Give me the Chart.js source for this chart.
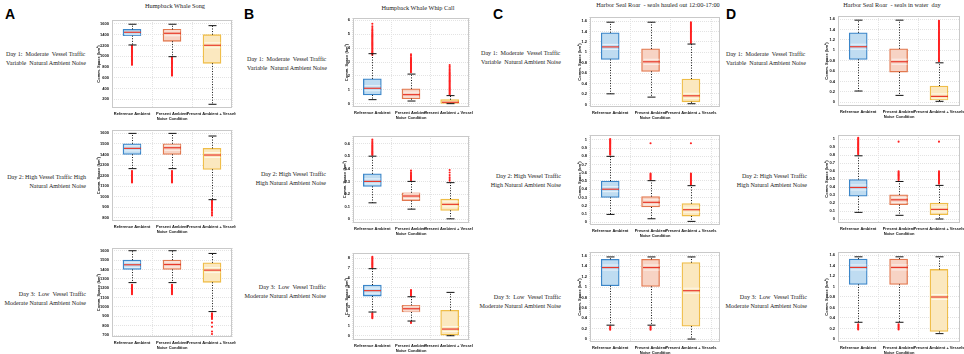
<!DOCTYPE html>
<html>
<head>
<meta charset="utf-8">
<script src="https://cdn.jsdelivr.net/npm/chart.js@4.4.0/dist/chart.umd.min.js"></script>
<style>
  body { margin: 0; background: #fff; }
  #fig { position: relative; width: 964px; height: 354px; overflow: hidden; background: #fff; }
  .lab { position: absolute; font-family: "Liberation Serif", serif; font-size: 6.1px; line-height: 9px; color: #1a1a1a; white-space: pre; }
  .ttl { position: absolute; font-family: "Liberation Serif", serif; font-size: 6.3px; color: #1a1a1a; white-space: pre; transform: translate(-50%, -50%); }
  .let { position: absolute; font-family: "Liberation Sans", Arial, sans-serif; font-weight: bold; font-size: 14px; line-height: 14px; color: #000; }
  canvas { position: absolute; }
</style>
</head>
<body>
<div id="fig"></div>
<script>
const categories = ["Reference Ambient", "Present Ambient", "Present Ambient + Vessels"];

// each row: [lower whisker, q1, median, q3, upper whisker]
const songDay1 = [[1210, 1383, 1446, 1501, 1595], [992, 1278, 1427, 1500, 1595], [107, 869, 1204, 1401, 1569]];
const songDay2 = [[1266, 1401, 1458, 1502, 1600], [1266, 1401, 1464, 1502, 1600], [972, 1259, 1395, 1458, 1575]];
const songDay3 = [[1260, 1400, 1450, 1500, 1600], [1260, 1400, 1453, 1500, 1600], [951, 1263, 1393, 1471, 1571]];
const whipDay1 = [[0.29, 0.63, 1.11, 1.79, 3.6], [0.19, 0.36, 0.65, 1.07, 2.13], [0, 0.02, 0.1, 0.29, 0.58]];
const whipDay2 = [[0.13, 0.26, 0.3, 0.36, 0.5], [0.08, 0.147, 0.184, 0.21, 0.3], [0.003, 0.07, 0.118, 0.16, 0.29]];
const whipDay3 = [[2.45, 4.1, 4.66, 5.24, 6.93], [1.52, 2.45, 2.79, 3.14, 4.03], [0, 0.07, 0.69, 2.62, 4.48]];
const hauledDay1 = [[0.203, 0.863, 1.105, 1.378, 1.58], [0.14, 0.635, 0.819, 1.067, 1.58], [0.013, 0.05, 0.165, 0.489, 1.16]];
const hauledDay2 = [[0.093, 0.3, 0.4, 0.5, 0.8], [0.04, 0.183, 0.24, 0.31, 0.504], [0.008, 0.073, 0.15, 0.224, 0.443]];
const hauledDay3 = [[0.267, 1.025, 1.376, 1.535, 1.58], [0.267, 1.013, 1.376, 1.535, 1.58], [0, 0.248, 0.93, 1.47, 1.58]];
const waterDay1 = [[0.218, 0.826, 1.069, 1.338, 1.58], [0.134, 0.582, 0.781, 1.03, 1.58], [0.02, 0.045, 0.115, 0.314, 0.76]];
const waterDay2 = [[0.083, 0.286, 0.394, 0.494, 0.79], [0.046, 0.178, 0.24, 0.303, 0.469], [0, 0.054, 0.12, 0.2, 0.42]];
const waterDay3 = [[0.317, 1.041, 1.365, 1.524, 1.568], [0.317, 1.041, 1.365, 1.524, 1.568], [0.1, 0.14, 0.8, 1.327, 1.568]];

// outliers per category
const songDay1Out = [
  [1195, 1178, 1160, 1142, 1125, 1107, 1090, 1072, 1054, 1036, 1018, 1000, 982, 964, 946, 928, 910, 892, 874, 856, 840],
  [980, 962, 944, 926, 908, 890, 872, 854, 836, 818, 800, 782, 764, 746, 728, 710, 692, 674, 656, 640],
  []
];
const songDay2Out = [
  [1244, 1234, 1224, 1214, 1204, 1194, 1184, 1174, 1164, 1154, 1144, 1134],
  [1244, 1234, 1224, 1214, 1204, 1194, 1184, 1174, 1164, 1154, 1144, 1134],
  [962, 952, 942, 932, 922, 912, 902, 892, 880, 866, 850, 836, 822]
];
const songDay3Out = [
  [1236, 1226, 1216, 1206, 1196, 1186, 1176, 1166, 1156, 1146, 1136],
  [1236, 1226, 1216, 1206, 1196, 1186, 1176, 1166, 1156, 1146, 1136],
  [932, 922, 912, 902, 892, 882, 872, 833, 790, 738, 712]
];
const whipDay1Out = [
  [3.5, 3.57, 3.64, 3.71, 3.78, 3.85, 3.92, 3.99, 4.06, 4.13, 4.2, 4.27, 4.34, 4.41, 4.48, 4.55, 4.62, 4.69, 4.76, 4.83, 4.9, 4.97, 5.06, 5.15, 5.25, 5.33, 5.45, 5.58, 5.76],
  [2.26, 2.33, 2.4, 2.47, 2.54, 2.61, 2.68, 2.75, 2.82, 2.89, 2.96, 3.03, 3.1, 3.17, 3.25, 3.34, 3.45, 3.56],
  [0.66, 0.73, 0.8, 0.87, 0.94, 1.01, 1.08, 1.15, 1.22, 1.29, 1.36, 1.43, 1.5, 1.57, 1.64, 1.71, 1.78, 1.85, 1.92, 1.99, 2.06, 2.13, 2.2, 2.28, 2.37, 2.46, 2.56, 2.67, 2.78]
];
const whipDay2Out = [
  [0.51, 0.518, 0.526, 0.534, 0.542, 0.55, 0.558, 0.566, 0.574, 0.582, 0.59, 0.6, 0.61, 0.62, 0.632],
  [0.31, 0.318, 0.326, 0.334, 0.342, 0.35, 0.36, 0.372, 0.386],
  [0.305, 0.318, 0.332, 0.35, 0.37, 0.39]
];
const whipDay3Out = [
  [7.05, 7.15, 7.25, 7.35, 7.45, 7.55, 7.65, 7.75, 7.85, 7.95, 8.05, 8.17, 2.32, 2.22, 2.12, 2.02, 1.92, 1.82],
  [4.14, 4.24, 4.34, 4.44, 4.54, 4.64, 4.72, 1.42, 1.32],
  []
];
const hauledDay1Out = [
  [], [],
  [1.18, 1.2, 1.22, 1.24, 1.26, 1.28, 1.3, 1.32, 1.34, 1.36, 1.38, 1.4, 1.42, 1.44, 1.46, 1.48, 1.5, 1.52, 1.54, 1.56, 1.58]
];
const hauledDay2Out = [
  [0.82, 0.832, 0.844, 0.856, 0.868, 0.88, 0.892, 0.904, 0.916, 0.928, 0.94, 0.952, 0.964, 0.976, 0.988, 1.0, 1.01],
  [0.518, 0.53, 0.542, 0.554, 0.566, 0.578, 0.59, 0.96],
  [0.458, 0.47, 0.482, 0.494, 0.506, 0.518, 0.53, 0.542, 0.554, 0.566, 0.578, 0.59, 0.96]
];
const hauledDay3Out = [[0.24, 0.22, 0.2, 0.18], [0.24, 0.22, 0.2, 0.18], []];
const waterDay1Out = [
  [], [],
  [0.79, 0.81, 0.83, 0.85, 0.87, 0.89, 0.91, 0.93, 0.95, 0.97, 0.99, 1.01, 1.03, 1.05, 1.07, 1.09, 1.11, 1.13, 1.15, 1.17,
   1.19, 1.21, 1.23, 1.25, 1.27, 1.29, 1.31, 1.33, 1.35, 1.37, 1.39, 1.41, 1.43, 1.45, 1.47, 1.49, 1.51, 1.53, 1.55, 1.57]
];
const waterDay2Out = [
  [0.81, 0.822, 0.834, 0.846, 0.858, 0.87, 0.882, 0.894, 0.906, 0.918, 0.93, 0.942, 0.954, 0.966, 0.978, 0.99, 1.002, 1.015],
  [0.488, 0.5, 0.512, 0.524, 0.536, 0.548, 0.56, 0.572, 0.584, 0.596, 0.967],
  [0.44, 0.452, 0.464, 0.476, 0.488, 0.5, 0.512, 0.524, 0.536, 0.548, 0.56, 0.572, 0.584, 0.596, 0.967]
];
const waterDay3Out = [[0.28, 0.26, 0.24, 0.22, 0.2, 0.18], [0.28, 0.26, 0.24, 0.22, 0.2, 0.18], []];

// y tick labels
const songDay1Ticks = [200, 400, 600, 800, 1000, 1200, 1400, 1600];
const songDay2Ticks = [800, 900, 1000, 1100, 1200, 1300, 1400, 1500, 1600];
const songDay3Ticks = [700, 800, 900, 1000, 1100, 1200, 1300, 1400, 1500, 1600];
const whipDay1Ticks = [0, 1, 2, 3, 4, 5, 6];
const whipDay2Ticks = [0, 0.1, 0.2, 0.3, 0.4, 0.5, 0.6];
const whipDay3Ticks = [0, 1, 2, 3, 4, 5, 6, 7, 8];
const sealTicks16 = [0, 0.2, 0.4, 0.6, 0.8, 1, 1.2, 1.4, 1.6];
const sealTicks10 = [0, 0.1, 0.2, 0.3, 0.4, 0.5, 0.6, 0.7, 0.8, 0.9, 1];

// y axis limits
const songDay1Range = [38, 1674];
const songDay2Range = [770, 1632];
const songDay3Range = [680, 1629];
const whipDay1Range = [-0.24, 6.17];
const whipDay2Range = [-0.03, 0.66];
const whipDay3Range = [-0.44, 8.55];
const hauledDay1Range = [-0.05, 1.68];
const hauledDay2Range = [-0.036, 1.06];
const hauledDay3Range = [-0.057, 1.675];
const waterDay1Range = [-0.07, 1.66];
const waterDay2Range = [-0.05, 1.05];
const waterDay3Range = [-0.06, 1.66];

const fills = ["#bfdcf1", "#f7d3c4", "#fbe8bf"];
const edges = ["#3b86c9", "#e2784f", "#efbd48"];

// plot rectangles [left, top, right, bottom], y-axis width, right end of x range
const panels = [
  { box: songDay1, out: songDay1Out, ticks: songDay1Ticks, range: songDay1Range, rect: [112, 20, 232, 108], yw: 16, xmax: 3.5 },
  { box: songDay2, out: songDay2Out, ticks: songDay2Ticks, range: songDay2Range, rect: [112, 130, 232, 221], yw: 16, xmax: 3.5 },
  { box: songDay3, out: songDay3Out, ticks: songDay3Ticks, range: songDay3Range, rect: [112, 248, 232, 337], yw: 16, xmax: 3.5 },
  { box: whipDay1, out: whipDay1Out, ticks: whipDay1Ticks, range: whipDay1Range, rect: [353, 18, 469, 107], yw: 9, xmax: 3.5 },
  { box: whipDay2, out: whipDay2Out, ticks: whipDay2Ticks, range: whipDay2Range, rect: [353, 136, 469, 223], yw: 11, xmax: 3.5 },
  { box: whipDay3, out: whipDay3Out, ticks: whipDay3Ticks, range: whipDay3Range, rect: [353, 253, 469, 340], yw: 9, xmax: 3.5 },
  { box: hauledDay1, out: hauledDay1Out, ticks: sealTicks16, range: hauledDay1Range, rect: [590, 17, 720, 107], yw: 13, xmax: 3.72 },
  { box: hauledDay2, out: hauledDay2Out, ticks: sealTicks10, range: hauledDay2Range, rect: [590, 135, 720, 225], yw: 13, xmax: 3.72 },
  { box: hauledDay3, out: hauledDay3Out, ticks: sealTicks16, range: hauledDay3Range, rect: [590, 252, 720, 342], yw: 13, xmax: 3.72 },
  { box: waterDay1, out: waterDay1Out, ticks: sealTicks16, range: waterDay1Range, rect: [838, 16, 960, 106], yw: 14, xmax: 3.52 },
  { box: waterDay2, out: waterDay2Out, ticks: sealTicks10, range: waterDay2Range, rect: [838, 135, 960, 223], yw: 14, xmax: 3.52 },
  { box: waterDay3, out: waterDay3Out, ticks: sealTicks16, range: waterDay3Range, rect: [838, 252, 960, 342], yw: 14, xmax: 3.52 }
];

const titles = [
  ["Humpback Whale Song", 175, 5],
  ["Humpback Whale Whip Call", 418, 7],
  ["Harbor Seal Roar  - seals hauled out 12:00-17:00", 658, 4],
  ["Harbor Seal Roar  - seals in water  day", 892, 4]
];
const letters = [["A", 5, 7], ["B", 244, 7], ["C", 493, 7], ["D", 726, 7]];
// [line1, line2, x, centre y of line1, align]
const rowLabels = [
  ["Day 1:  Moderate  Vessel Traffic", "Variable  Natural Ambient Noise", 6, 54, "left"],
  ["Day 2: High Vessel Traffic High", "Natural Ambient Noise", 86, 177, "right"],
  ["Day 3:  Low  Vessel Traffic", "Moderate Natural Ambient Noise", 86, 294, "right"],
  ["Day 1:  Moderate  Vessel Traffic", "Variable  Natural Ambient Noise", 247, 59, "left"],
  ["Day 2: High Vessel Traffic", "High Natural Ambient Noise", 326, 174, "right"],
  ["Day 3:  Low  Vessel Traffic", "Moderate Natural Ambient Noise", 326, 287, "right"],
  ["Day 1:  Moderate  Vessel Traffic", "Variable  Natural Ambient Noise", 481, 53, "left"],
  ["Day 2: High Vessel Traffic", "High Natural Ambient Noise", 561, 176, "right"],
  ["Day 3:  Low  Vessel Traffic", "Moderate Natural Ambient Noise", 561, 297, "right"],
  ["Day 1:  Moderate  Vessel Traffic", "Variable  Natural Ambient Noise", 726, 54, "left"],
  ["Day 2: High Vessel Traffic", "High Natural Ambient Noise", 807, 176, "right"],
  ["Day 3:  Low  Vessel Traffic", "Moderate Natural Ambient Noise", 807, 297, "right"]
];

const fig = document.getElementById("fig");

titles.forEach(([t, x, y]) => {
  const d = document.createElement("div");
  d.className = "ttl";
  d.textContent = t;
  d.style.left = x + "px";
  d.style.top = y + "px";
  fig.appendChild(d);
});
letters.forEach(([t, x, y]) => {
  const d = document.createElement("div");
  d.className = "let";
  d.textContent = t;
  d.style.left = x + "px";
  d.style.top = y + "px";
  fig.appendChild(d);
});
rowLabels.forEach(([a, b, x, y, align]) => {
  const d = document.createElement("div");
  d.className = "lab";
  d.textContent = a + "\n" + b;
  d.style.top = (y - 4.5) + "px";
  d.style.textAlign = align;
  if (align == "left") d.style.left = x + "px";
  else d.style.right = (964 - x) + "px";
  fig.appendChild(d);
});

const tickFont = { family: "Liberation Sans", size: 4, weight: "bold" };

// whiskers, caps, medians and the plot frame
const boxPlot = {
  id: "boxPlot",
  afterDatasetsDraw(chart, args, opts) {
    const { ctx, chartArea, scales } = chart;
    const x = scales.x, y = scales.y;
    ctx.save();
    opts.rows.forEach((r, i) => {
      const cx = Math.round(x.getPixelForValue(i + 1)) + 0.5;
      const lo = y.getPixelForValue(r[0]);
      const q1 = y.getPixelForValue(r[1]);
      const med = y.getPixelForValue(r[2]);
      const q3 = y.getPixelForValue(r[3]);
      const hi = y.getPixelForValue(r[4]);
      ctx.strokeStyle = "#111";
      ctx.lineWidth = 1;
      ctx.setLineDash([1, 1.6]);
      ctx.beginPath();
      ctx.moveTo(cx, q3); ctx.lineTo(cx, hi);
      ctx.moveTo(cx, q1); ctx.lineTo(cx, lo);
      ctx.stroke();
      ctx.setLineDash([]);
      ctx.beginPath();
      ctx.moveTo(cx - 4, hi); ctx.lineTo(cx + 4, hi);
      ctx.moveTo(cx - 4, lo); ctx.lineTo(cx + 4, lo);
      ctx.stroke();
      // faint notch lines
      ctx.strokeStyle = "rgba(255,255,255,0.85)";
      ctx.lineWidth = 0.8;
      ctx.beginPath();
      if (q3 < med - 3) { ctx.moveTo(cx - 8, med - 2.5); ctx.lineTo(cx + 8, med - 2.5); }
      if (q1 > med + 3) { ctx.moveTo(cx - 8, med + 2.5); ctx.lineTo(cx + 8, med + 2.5); }
      ctx.stroke();
      ctx.strokeStyle = "#e8392c";
      ctx.lineWidth = 1.2;
      ctx.beginPath();
      ctx.moveTo(cx - 8.5, med); ctx.lineTo(cx + 8.5, med);
      ctx.stroke();
    });
    ctx.strokeStyle = "#c9c9c9";
    ctx.lineWidth = 1;
    ctx.strokeRect(chartArea.left + 0.5, chartArea.top + 0.5, chartArea.width - 1, chartArea.height - 1);
    ctx.restore();
  }
};

panels.forEach((p) => {
  const [l, t, r, b] = p.rect;
  const padTop = 4, padRight = 4, xh = 14;
  const cv = document.createElement("canvas");
  const w = r - l + p.yw + padRight;
  const h = b - t + padTop + xh;
  cv.width = w;
  cv.height = h;
  cv.style.left = (l - p.yw) + "px";
  cv.style.top = (t - padTop) + "px";
  fig.appendChild(cv);

  const outPts = [];
  p.out.forEach((vals, i) => vals.forEach((v) => outPts.push({ x: i + 1, y: v })));

  new Chart(cv, {
    type: "bar",
    data: {
      datasets: [
        {
          type: "line",
          data: outPts,
          showLine: false,
          pointRadius: 1.05,
          pointBorderWidth: 0,
          pointBackgroundColor: "#ff1f1f",
          borderColor: "#ff1f1f"
        },
        {
          data: p.box.map((row, i) => ({ x: i + 1, y: [row[1], row[3]] })),
          backgroundColor: fills,
          borderColor: edges,
          borderWidth: 1.3,
          borderSkipped: false,
          barThickness: 18
        }
      ]
    },
    options: {
      responsive: false,
      animation: false,
      devicePixelRatio: 1,
      layout: { padding: { top: padTop, right: padRight, left: 0, bottom: 0 } },
      plugins: {
        legend: { display: false },
        tooltip: { enabled: false },
        boxPlot: { rows: p.box }
      },
      scales: {
        x: {
          type: "linear",
          min: 0.5,
          max: p.xmax,
          offset: false,
          afterBuildTicks: (s) => { s.ticks = categories.map((c, i) => ({ value: i + 1 })); },
          grid: { color: "#e3e3e3", drawTicks: false },
          border: { display: false, dash: [1, 1] },
          ticks: { font: tickFont, color: "#111", padding: 3, maxRotation: 0, minRotation: 0, autoSkip: false,
                   callback: (v) => categories[v - 1] },
          title: { display: true, text: "Noise Condition", font: tickFont, color: "#111", padding: { top: 0, bottom: 1 } },
          afterFit: (s) => { s.height = xh; s.paddingLeft = 0; s.paddingRight = 0; }
        },
        y: {
          min: p.range[0],
          max: p.range[1],
          afterBuildTicks: (s) => { s.ticks = p.ticks.map((v) => ({ value: v })); },
          grid: { color: "#e3e3e3", drawTicks: false },
          border: { display: false, dash: [1, 1] },
          ticks: { font: tickFont, color: "#111", padding: 3, callback: (v) => String(v) },
          title: { display: true, text: "Comm. Space (km²)", font: tickFont, color: "#111", padding: { top: 0, bottom: 0 } },
          afterFit: (s) => { s.width = p.yw; s.paddingTop = 0; s.paddingBottom = 0; }
        }
      }
    },
    plugins: [boxPlot]
  });
});
</script>
</body>
</html>
